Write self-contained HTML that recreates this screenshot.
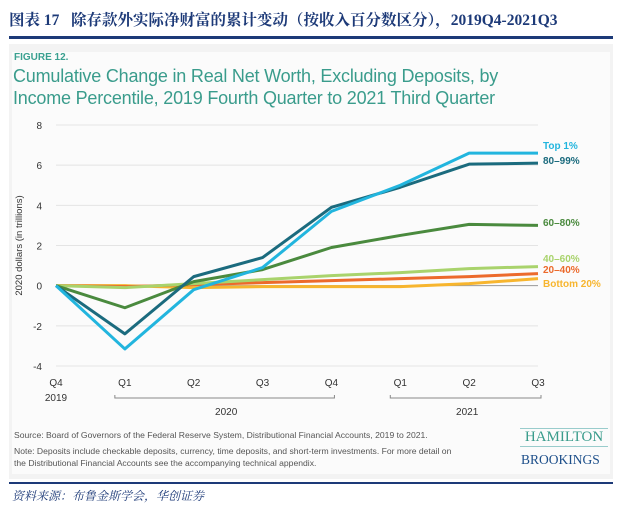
<!DOCTYPE html>
<html><head><meta charset="utf-8"><style>
body{margin:0;width:622px;height:516px;background:#fff;font-family:"Liberation Sans","Noto Sans CJK SC",sans-serif;position:relative;overflow:hidden}
.abs{position:absolute}
</style></head><body>
<div class="abs" style="left:9px;top:8px;font-family:'Liberation Serif','Noto Serif CJK SC',serif;font-weight:bold;font-size:15.5px;color:#1d3a78;white-space:nowrap">图表 17&nbsp;&nbsp;&nbsp;除存款外实际净财富的累计变动（按收入百分数区分），2019Q4-2021Q3</div>
<div class="abs" style="left:9px;top:36px;width:604px;height:3px;background:#1d3a78"></div>
<div class="abs" style="left:9px;top:44px;width:604px;height:435px;background:#f3f3f3">
 <div class="abs" style="left:3px;top:8px;width:598px;height:422px;background:#fbfbfb"></div>
</div>
<div class="abs" style="left:14px;top:52px;font-size:10px;font-weight:bold;color:#3aa090">FIGURE 12.</div>
<div class="abs" style="left:13px;top:65px;font-size:18px;line-height:22px;color:#3a9c8c;font-family:'Liberation Sans',sans-serif;letter-spacing:-0.2px">Cumulative Change in Real Net Worth, Excluding Deposits, by<br>Income Percentile, 2019 Fourth Quarter to 2021 Third Quarter</div>
<svg class="abs" style="left:0;top:0" width="622" height="516" id="chart"></svg>
<div class="abs" style="left:14px;top:429px;font-size:8.6px;color:#555;line-height:12px">Source: Board of Governors of the Federal Reserve System, Distributional Financial Accounts, 2019 to 2021.<div style="margin-top:4px">Note: Deposits include checkable deposits, currency, time deposits, and short-term investments. For more detail on<br>the Distributional Financial Accounts see the accompanying technical appendix.</div></div>
<div class="abs" style="left:520px;top:428px;width:88px;text-align:center;font-family:'Liberation Serif',serif;color:#3a9c8c;font-size:15px;border-top:1px solid #9cc;border-bottom:1px solid #9cc;line-height:17px">HAMILTON</div>
<div class="abs" style="left:521px;top:452px;font-family:'Liberation Serif',serif;color:#1d4f8a;font-size:13.5px">BROOKINGS</div>
<div class="abs" style="left:9px;top:482px;width:604px;height:2px;background:#1d3a78"></div>
<div class="abs" style="left:12px;top:487px;font-size:12px;font-style:italic;color:#1d3a78;font-family:'Liberation Serif','Noto Serif CJK SC',serif">资料来源：布鲁金斯学会，华创证券</div>
<script>
const categories=["Q4","Q1","Q2","Q3","Q4","Q1","Q2","Q3"];
const yTicks=[8,6,4,2,0,-2,-4];
const seriesNames=["Bottom 20%","20–40%","40–60%","60–80%","80–99%","Top 1%"];
const bottom20=[0,0.0,-0.1,-0.05,-0.05,-0.05,0.1,0.35];
const p20_40=[0,-0.05,0.05,0.15,0.25,0.35,0.45,0.6];
const p40_60=[0,-0.1,0.1,0.3,0.5,0.65,0.85,0.95];
const p60_80=[0,-1.1,0.2,0.8,1.9,2.5,3.05,3.0];
const p80_99=[0,-2.4,0.45,1.4,3.9,4.9,6.05,6.1];
const top1=[0,-3.15,-0.2,0.9,3.7,5.0,6.6,6.6];
const svg=document.getElementById('chart');
const NS='http://www.w3.org/2000/svg';
const x0=56,x1=538,yTop=125,yBot=366,vMax=8,vMin=-4;
const xs=i=>x0+(x1-x0)*i/(categories.length-1);
const ys=v=>yTop+(vMax-v)*(yBot-yTop)/(vMax-vMin);
function mk(t,a,txt){const e=document.createElementNS(NS,t);for(const k in a)e.setAttribute(k,a[k]);if(txt!==undefined)e.textContent=txt;svg.appendChild(e);return e;}
yTicks.forEach(v=>{
 const g=mk('line',{x1:x0,x2:x1,y1:ys(v),y2:ys(v),stroke:v===0?'#999':'#e4e4e4','stroke-width':1});
 
 
 const t=mk('text',{x:42,y:ys(v)+4,'font-size':10,fill:'#333','text-anchor':'end','font-family':'Liberation Sans'},v);
 
 
});
const yt=mk('text',{x:0,y:0,'font-size':9.5,fill:'#333','text-anchor':'middle','font-family':'Liberation Sans',transform:'translate(22,'+ys(2)+') rotate(-90)'},'2020 dollars (in trillions)');


categories.forEach((c,i)=>{
 const t=mk('text',{x:xs(i),y:386,'font-size':10,fill:'#333','text-anchor':'middle','font-family':'Liberation Sans'},c);
 
 
});
const y19=mk('text',{x:xs(0),y:401,'font-size':10,fill:'#333','text-anchor':'middle','font-family':'Liberation Sans'},'2019');


[[1,4,'2020'],[5,7,'2021']].forEach(([a,b,l])=>{
 const p=mk('path',{d:`M${xs(a)-10},395 v3 H${xs(b)+3} v-3`,fill:'none',stroke:'#888','stroke-width':1});
 
 
 const t=mk('text',{x:(xs(a)+xs(b))/2-2,y:415,'font-size':10,fill:'#333','text-anchor':'middle','font-family':'Liberation Sans'},l);
 
 
});
const series=[bottom20,p20_40,p40_60,p60_80,p80_99,top1];
const colors=['#f7b52e','#ec6a2c','#a9d36c','#4a8a3e','#1b6b7e','#22b5de'];
const labelY=[287,273,262,226,164,149];
series.forEach((d,k)=>{
 const p=mk('polyline',{points:d.map((v,i)=>xs(i)+','+ys(v)).join(' '),fill:'none',stroke:colors[k],'stroke-width':3,'stroke-linejoin':'round'});
 
 
 const t=mk('text',{x:543,y:labelY[k],'font-size':10,'font-weight':'bold',fill:colors[k],'font-family':'Liberation Sans'},seriesNames[k]);
 
 
});
</script>
</body></html>
